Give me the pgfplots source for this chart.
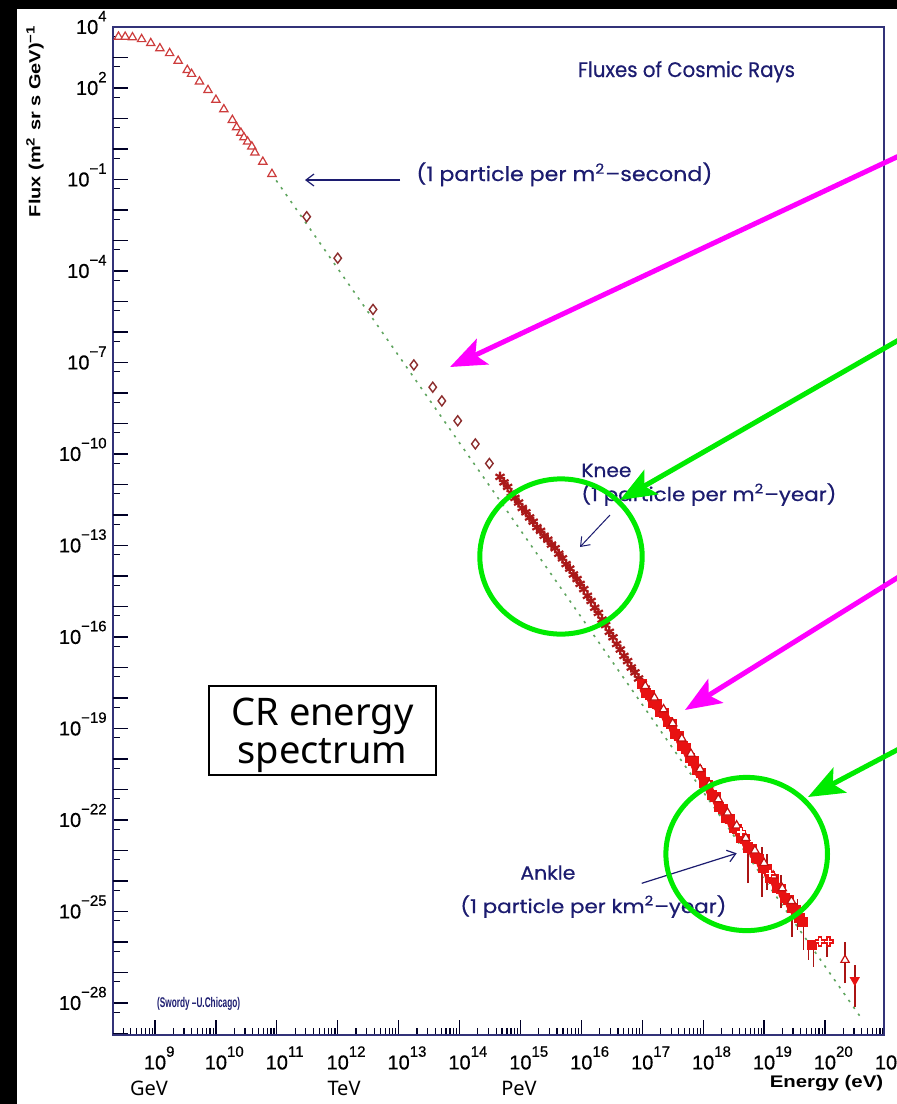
\documentclass[border=0pt]{standalone}
\usepackage{graphicx}
\usepackage{pgfplots}
\pgfplotsset{compat=1.18}
\usepackage{fontspec}
\setmainfont{Liberation Sans}
\newfontfamily\ticfont{Liberation Sans}[FakeBold=0.5]
\newfontfamily\annfont{Poppins}[FakeBold=0.5]
\newfontfamily\slidefont{Noto Sans}
\usetikzlibrary{arrows.meta}

\definecolor{navy}{RGB}{28,28,112}
\definecolor{framec}{RGB}{50,50,120}
\definecolor{trired}{RGB}{205,60,60}
\definecolor{diared}{RGB}{140,45,45}
\definecolor{starred}{RGB}{170,25,25}
\definecolor{bandred}{RGB}{232,18,18}
\definecolor{barred}{RGB}{170,20,20}
\definecolor{fitgreen}{RGB}{95,165,95}
\definecolor{hlmag}{RGB}{255,0,255}
\definecolor{hlgreen}{RGB}{0,235,0}

% minor ticks: 2..9 in every decade (x), 5x10^(n-1) below every decade (y)
\xdef\minorx{8.301}
\foreach \n in {8,...,20}{\foreach \f in {0.301,0.477,0.602,0.699,0.778,0.845,0.903,0.954}{%
  \pgfmathparse{\n+\f}\xdef\minorx{\minorx,\pgfmathresult}}}
\xdef\minory{3.699}
\foreach \n in {-28,...,3}{\pgfmathparse{\n-0.301}\xdef\minory{\minory,\pgfmathresult}}

% power-of-ten tick labels
\newcommand\yl[1]{10\smash{\raisebox{6.3pt}{\fontsize{7.5}{7.5}\selectfont#1}}}
\newcommand\xl[1]{10\rlap{\smash{\raisebox{6.3pt}{\fontsize{7.5}{7.5}\selectfont#1}}}}

\begin{document}
\begin{tikzpicture}
\useasboundingbox (0pt,0pt) rectangle (448.5pt,-552pt);
\clip (0pt,0pt) rectangle (448.5pt,-552pt);
\fill[black] (0pt,0pt) rectangle (448.5pt,-552pt);
\fill[white] (8.5pt,-4.5pt) rectangle (448.5pt,-552pt);

\begin{axis}[
  at={(56.5pt,-517.5pt)}, anchor=south west,
  scale only axis, width=385.5pt, height=504pt,
  xmin=8.31, xmax=20.97, ymin=-29.05, ymax=4,
  axis line style={framec, line width=0.8pt},
  tick style={black!85!blue, line width=0.6pt},
  tick align=inside,
  xtick pos=left, ytick pos=left,
  major tick length=7.5pt, minor tick length=3.5pt,
  tick label style={font=\ticfont\fontsize{10}{11}\selectfont},
  xtick={9,...,20},
  xticklabels={\xl{9},\xl{10},\xl{11},\xl{12},\xl{13},\xl{14},\xl{15},\xl{16},\xl{17},\xl{18},\xl{19},\xl{20}},
  xticklabel style={anchor=north, inner sep=0pt, yshift=-10pt},
  minor xtick/.expand once=\minorx,
  ytick={4,2,-1,-4,-7,-10,-13,-16,-19,-22,-25,-28},
  yticklabels={\yl{4},\yl{2},\yl{−1},\yl{−4},\yl{−7},\yl{−10},\yl{−13},\yl{−16},\yl{−19},\yl{−22},\yl{−25},\yl{−28}},
  yticklabel style={anchor=east, inner sep=0pt, xshift=-3pt},
  extra y ticks={3,1,0,-2,-3,-5,-6,-8,-9,-11,-12,-14,-15,-17,-18,-20,-21,-23,-24,-26,-27,-29},
  extra y tick labels={},
  minor ytick/.expand once=\minory,
]
% reference power law E^-2.86
\addplot[fitgreen, line width=0.8pt, dash pattern=on 1.2pt off 3pt] coordinates {
  (10.99,-1.03) (20.58,-28.45)};

% low energy: open triangles
\addplot[only marks, trired, mark=triangle*, mark size=2.4pt,
  mark options={fill=white, line width=0.6pt}] coordinates {
  (8.40,3.68) (8.51,3.68) (8.63,3.66) (8.78,3.60) (8.93,3.47) (9.08,3.30)
  (9.24,3.14) (9.38,2.89) (9.53,2.59) (9.60,2.46) (9.73,2.21) (9.87,1.93)
  (10.00,1.61) (10.13,1.30) (10.27,0.95) (10.34,0.71) (10.41,0.53) (10.46,0.38)
  (10.52,0.24) (10.59,0.08) (10.64,-0.12) (10.77,-0.42) (10.92,-0.82)};

% direct measurements: open diamonds
\addplot[only marks, diared, mark=diamond*, mark size=2.5pt,
  mark options={fill=white, line width=0.7pt}] coordinates {
  (11.49,-2.22) (12.00,-3.58) (12.58,-5.26) (13.25,-7.08) (13.56,-7.81)
  (13.71,-8.26) (13.97,-8.91) (14.26,-9.67) (14.49,-10.31)};

% knee region: asterisks
\addplot[only marks, starred, mark=asterisk, mark size=2.6pt,
  mark options={line width=1.1pt}] coordinates {
  (14.665,-10.75) (14.73,-10.93) (14.79,-11.08) (14.85,-11.28) (14.91,-11.44)
  (14.97,-11.59) (15.03,-11.77) (15.09,-11.91) (15.15,-12.08) (15.21,-12.22)
  (15.27,-12.40) (15.33,-12.52) (15.39,-12.68) (15.45,-12.81) (15.51,-12.97)
  (15.57,-13.09) (15.63,-13.27) (15.69,-13.42) (15.75,-13.61) (15.81,-13.76)
  (15.87,-13.95) (15.93,-14.10) (15.98,-14.26) (16.04,-14.43) (16.10,-14.65)
  (16.16,-14.82) (16.22,-15.04) (16.28,-15.21) (16.34,-15.43) (16.40,-15.61)
  (16.46,-15.83) (16.52,-16.01) (16.58,-16.23) (16.64,-16.41) (16.70,-16.62)
  (16.76,-16.79) (16.82,-17.00) (16.88,-17.16) (16.94,-17.36) (17.00,-17.52)
  (17.05,-17.69)};

% air shower error bars
\addplot[barred, line width=0.8pt, unbounded coords=jump] coordinates {
  (18.74,-24.07) (18.74,-22.76) (18.74,nan)
  (18.97,-24.51) (18.97,-22.87) (18.97,nan)
  (19.05,-24.30) (19.05,-23.10) (19.05,nan)
  (19.28,-24.90) (19.28,-23.80) (19.28,nan)
  (19.455,-25.83) (19.455,-25.17) (19.455,nan)
  (19.55,-25.60) (19.55,-24.60) (19.55,nan)
  (19.646,-26.26) (19.646,-25.50) (19.646,nan)
  (19.73,-26.59) (19.73,-25.96) (19.73,nan)
  (19.81,-26.81) (19.81,-26.07) (19.81,nan)
  (20.03,-26.48) (20.03,-25.83) (20.03,nan)
  (20.33,-27.35) (20.33,-25.99) (20.33,nan)
  (20.49,-28.12) (20.49,-26.75)};

% air shower data: filled
\addplot[only marks, bandred, mark=square*, mark size=2.3pt] coordinates {
  (17.00,-17.55) (17.06,-17.83) (17.12,-17.90) (17.18,-18.15) (17.24,-18.20)
  (17.30,-18.46) (17.36,-18.50) (17.42,-18.78) (17.48,-18.86) (17.54,-19.17)
  (17.60,-19.25) (17.66,-19.57) (17.72,-19.65) (17.78,-19.97) (17.84,-20.05)
  (17.90,-20.37) (17.96,-20.45) (18.02,-20.77) (18.08,-20.85) (18.14,-21.17)
  (18.20,-21.25) (18.26,-21.57) (18.32,-21.64) (18.38,-21.92) (18.44,-21.96)
  (18.50,-22.25) (18.56,-22.29) (18.62,-22.58) (18.68,-22.62) (18.74,-22.90)
  (18.80,-22.95) (18.86,-23.24) (18.92,-23.28) (18.98,-23.57) (19.04,-23.61)
  (19.10,-23.90) (19.16,-23.94) (19.22,-24.23) (19.28,-24.27) (19.34,-24.56)
  (19.40,-24.61) (19.46,-24.89) (19.52,-24.94) (19.58,-25.22) (19.64,-25.35)
  (19.78,-26.10)};
\addplot[only marks, bandred, mark=*, mark size=2.0pt] coordinates {
  (17.03,-17.74) (17.09,-17.88) (17.15,-18.06) (17.21,-18.24) (17.27,-18.36)
  (17.33,-18.52) (17.39,-18.66) (17.45,-18.88) (17.51,-19.04) (17.57,-19.26)
  (17.63,-19.44) (17.69,-19.66) (17.75,-19.84) (17.81,-20.06) (17.87,-20.24)
  (17.93,-20.46) (17.99,-20.64) (18.05,-20.86) (18.11,-21.04) (18.17,-21.26)
  (18.23,-21.42) (18.29,-21.62) (18.35,-21.80) (18.41,-21.96) (18.47,-22.14)
  (18.53,-22.30) (18.59,-22.46) (18.65,-22.64) (18.71,-22.80) (18.77,-22.96)
  (18.83,-23.14) (18.89,-23.30) (18.95,-23.46) (19.01,-23.62) (19.07,-23.80)
  (19.13,-23.96) (19.19,-24.12) (19.25,-24.30) (19.31,-24.46) (19.37,-24.62)
  (19.43,-24.80) (19.49,-24.96) (19.55,-25.12)};

% air shower data: open triangles
\addplot[only marks, bandred!85!black, mark=triangle*, mark size=2.4pt,
  mark options={fill=white, line width=0.6pt}] coordinates {
  (17.05,-17.61) (17.20,-17.99) (17.35,-18.37) (17.50,-18.83) (17.65,-19.33)
  (17.80,-19.83) (17.95,-20.33) (18.10,-20.83) (18.25,-21.32) (18.40,-21.76)
  (18.55,-22.18) (18.70,-22.59) (18.85,-23.00) (19.00,-23.41) (19.15,-23.82)
  (19.30,-24.24) (19.45,-24.66) (20.33,-26.59)};

% air shower data: open crosses
\addplot[only marks, bandred, mark=+, mark size=2.6pt,
  mark options={line width=2.2pt}] coordinates {
  (18.62,-22.40) (19.10,-23.75) (19.92,-25.99) (20.06,-25.99)};
\addplot[only marks, white, mark=+, mark size=1.9pt,
  mark options={line width=0.8pt}] coordinates {
  (18.62,-22.40) (19.10,-23.75) (19.92,-25.99) (20.06,-25.99)};

% highest energy point
\addplot[only marks, bandred, mark=triangle*, mark size=2.6pt,
  mark options={rotate=180}] coordinates {(20.49,-27.25)};
\end{axis}

\begin{scope}[x=0.5pt, y=-0.5pt, inner sep=0pt]
  % last energy label at the frame edge
  \node[anchor=north, font=\ticfont\fontsize{10}{11}\selectfont] at (886,1055) {\xl{21}};
  % axis titles
  \node[rotate=90, font=\bfseries\fontsize{8}{9}\selectfont] at (35,121)
    {\resizebox{96pt}{\height}{Flux (m\textsuperscript{2} sr s GeV)\textsuperscript{−1}}};
  \node[anchor=base, font=\bfseries\fontsize{8.4}{9}\selectfont] at (826.5,1087.5)
    {\resizebox{56.7pt}{\height}{Energy (eV)}};
  % chart annotations
  \node[anchor=base, navy, font=\annfont\fontsize{10.5}{12}\selectfont] at (686.5,77)
    {\resizebox{108.5pt}{\height}{Fluxes of Cosmic Rays}};
  \node[anchor=base west, navy, font=\annfont\fontsize{10}{12}\selectfont] at (416,181)
    {\resizebox{148pt}{\height}{(1 particle per m\textsuperscript{2}–second)}};
  \draw[navy, line width=0.6pt, -{Straight Barb[length=4pt,width=6pt]}] (400,180) -- (305,180);
  \node[anchor=base west, navy, font=\annfont\fontsize{9.5}{11}\selectfont] at (581,477)
    {\resizebox{25pt}{\height}{Knee}};
  \node[anchor=base west, navy, font=\annfont\fontsize{9.5}{11}\selectfont] at (581,501)
    {\resizebox{127.5pt}{\height}{(1 particle per m\textsuperscript{2}–year)}};
  \draw[navy, line width=0.5pt, -{Straight Barb[length=4pt,width=6pt]}] (610,515) -- (580,547);
  \node[anchor=base west, navy, font=\annfont\fontsize{9.5}{11}\selectfont] at (520,879.5)
    {\resizebox{27.5pt}{\height}{Ankle}};
  \node[anchor=base west, navy, font=\annfont\fontsize{9.5}{11}\selectfont] at (460,913)
    {\resizebox{133pt}{\height}{(1 particle per km\textsuperscript{2}–year)}};
  \draw[navy, line width=0.6pt, -{Straight Barb[length=4pt,width=6pt]}] (641.7,883.3) -- (736.7,853.3);
  \node[anchor=base west, navy, font=\bfseries\fontsize{7}{8}\selectfont] at (156.7,1007)
    {\resizebox{41.5pt}{\height}{(Swordy –U.Chicago)}};

  % energy scale names
  \node[anchor=base, font=\slidefont\fontsize{10}{12}\selectfont] at (149,1095) {GeV};
  \node[anchor=base, font=\slidefont\fontsize{10}{12}\selectfont] at (344,1095) {TeV};
  \node[anchor=base, font=\slidefont\fontsize{10}{12}\selectfont] at (519,1095) {PeV};

  % caption box
  \fill[white] (209,686) rectangle (436,775);
  \draw[black, line width=1.2pt] (209,686) rectangle (436,775);
  \node[anchor=base, font=\slidefont\fontsize{19}{19}\selectfont] at (322.5,725) {CR energy};
  \node[anchor=base, font=\slidefont\fontsize{19}{19}\selectfont] at (322.5,763) {spectrum};

  % highlights
  \tikzset{hl/.style={line width=2.5pt, -{Stealth[length=18pt,width=14pt,inset=4pt]}}}
  \draw[hlmag, hl] (950,132) -- (450,367);
  \draw[hlgreen, hl] (950,310.6) -- (620,500);
  \draw[hlmag, hl] (950,545) -- (685,710);
  \draw[hlgreen, hl] (950,722) -- (808,797);
  \draw[hlgreen, line width=2.5pt] (561,556.5) ellipse [x radius=40.6pt, y radius=38.8pt];
  \draw[hlgreen, line width=2.5pt] (746.7,854) ellipse [x radius=40.4pt, y radius=38.3pt];
\end{scope}
\end{tikzpicture}
\end{document}
